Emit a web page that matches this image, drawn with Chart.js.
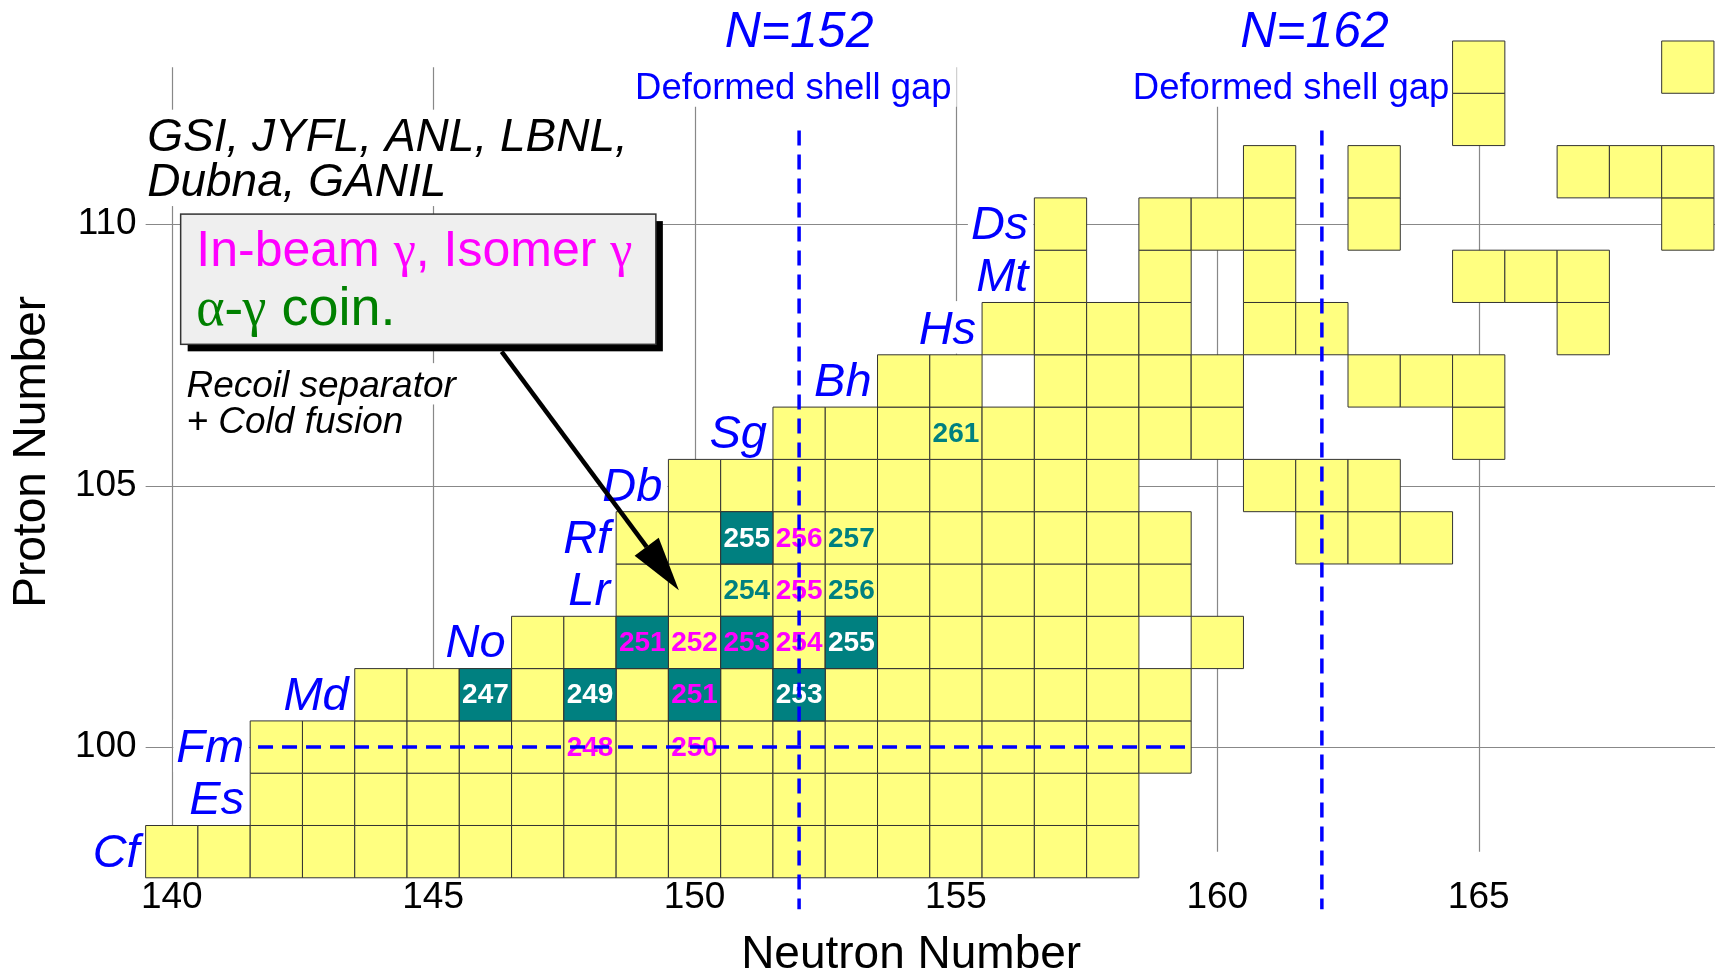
<!DOCTYPE html>
<html>
<head>
<meta charset="utf-8">
<title>Spectroscopy of the heaviest nuclei</title>
<script src="https://cdn.jsdelivr.net/npm/chart.js@4.4.1/dist/chart.umd.min.js"></script>
<style>
  html, body { margin: 0; padding: 0; background: #ffffff; }
  #wrap { width: 1715px; height: 976px; }
</style>
</head>
<body>
<div id="wrap"><canvas id="chart" width="1715" height="976"></canvas></div>
<script>
// axis ticks
const neutronTicks = [140, 145, 150, 155, 160, 165];
const protonTicks = [100, 105, 110];

// known nuclides, one row of neutron numbers per proton number
const protonNumbers = [98, 99, 100, 101, 102, 103, 104, 105, 106, 107, 108, 109, 110, 111, 112, 113];
const knownNeutrons = [
  [140, 141, 142, 143, 144, 145, 146, 147, 148, 149, 150, 151, 152, 153, 154, 155, 156, 157, 158],
  [142, 143, 144, 145, 146, 147, 148, 149, 150, 151, 152, 153, 154, 155, 156, 157, 158],
  [142, 143, 144, 145, 146, 147, 148, 149, 150, 151, 152, 153, 154, 155, 156, 157, 158, 159],
  [144, 145, 146, 147, 148, 149, 150, 151, 152, 153, 154, 155, 156, 157, 158, 159],
  [147, 148, 149, 150, 151, 152, 153, 154, 155, 156, 157, 158, 160],
  [149, 150, 151, 152, 153, 154, 155, 156, 157, 158, 159],
  [149, 150, 151, 152, 153, 154, 155, 156, 157, 158, 159, 162, 163, 164],
  [150, 151, 152, 153, 154, 155, 156, 157, 158, 161, 162, 163],
  [152, 153, 154, 155, 156, 157, 158, 159, 160, 165],
  [154, 155, 157, 158, 159, 160, 163, 164, 165],
  [156, 157, 158, 159, 161, 162, 167],
  [157, 159, 161, 165, 166, 167],
  [157, 159, 160, 161, 163, 169],
  [161, 163, 167, 168, 169],
  [165],
  [165, 169]
];

// element symbols written left of each row
const elementZ = [98, 99, 100, 101, 102, 103, 104, 105, 106, 107, 108, 109, 110];
const elementSymbols = ['Cf', 'Es', 'Fm', 'Md', 'No', 'Lr', 'Rf', 'Db', 'Sg', 'Bh', 'Hs', 'Mt', 'Ds'];

// cells shaded dark
const tealZ = [101, 101, 101, 101, 102, 102, 102, 104];
const tealN = [146, 148, 150, 152, 149, 151, 153, 151];

// mass numbers written in the cells, 'ib' = in-beam / isomer gamma, 'ag' = alpha-gamma coin.
const massZ = [100, 100, 101, 101, 101, 101, 102, 102, 102, 102, 102, 103, 103, 103, 104, 104, 104, 106];
const massN = [148, 150, 146, 148, 150, 152, 149, 150, 151, 152, 153, 151, 152, 153, 151, 152, 153, 155];
const massNumbers = ['248', '250', '247', '249', '251', '253', '251', '252', '253', '254', '255', '254', '255', '256', '255', '256', '257', '261'];
const massMethod = ['ib', 'ib', 'ag', 'ag', 'ib', 'ag', 'ib', 'ib', 'ib', 'ib', 'ag', 'ag', 'ib', 'ag', 'ag', 'ib', 'ag', 'ag'];

// deformed shell gaps (dashed lines)
const shellGapN = [152, 162];
const shellGapZ = [100];

const FONT = '"Liberation Sans", Arial, Helvetica, sans-serif';
const SERIF = '"Liberation Serif", "Times New Roman", serif';
const BLUE = '#0000ff', MAGENTA = '#ff00ff', TEAL = '#008080', GREEN = '#008000';

const cells = [];
protonNumbers.forEach((z, i) => knownNeutrons[i].forEach(n => cells.push({ x: n, y: z })));
const tealCells = tealZ.map((z, i) => ({ x: tealN[i], y: z }));

function cellRadius(chart) {
  const s = chart.scales.x;
  if (!s) return 0;
  return Math.abs(s.getPixelForValue(1) - s.getPixelForValue(0)) / Math.SQRT2;
}

function px(chart, n) { return chart.scales.x.getPixelForValue(n); }
function py(chart, z) { return chart.scales.y.getPixelForValue(z); }

function runsWidth(ctx, runs) {
  let w = 0;
  runs.forEach(r => { ctx.font = r.font; w += ctx.measureText(r.t).width; });
  return w;
}

function drawRuns(ctx, runs, x, y) {
  ctx.textAlign = 'left';
  ctx.textBaseline = 'alphabetic';
  runs.forEach(r => {
    ctx.font = r.font;
    ctx.fillStyle = r.color;
    ctx.fillText(r.t, x, y);
    x += ctx.measureText(r.t).width;
  });
}

// free text on the chart, positions in (N, Z) units
function textItems(chart) {
  const items = [];
  elementSymbols.forEach((sym, i) => {
    const row = knownNeutrons[protonNumbers.indexOf(elementZ[i])];
    items.push({
      runs: [{ t: sym, font: 'italic 47px ' + FONT, color: BLUE }], size: 47, align: 'right',
      x: px(chart, Math.min(...row) - 0.5) - 6, y: py(chart, elementZ[i]) + 15, bg: true
    });
  });
  const titleN = [152, 161.86], noteN = [151.89, 161.41];
  shellGapN.forEach((n, i) => {
    items.push({ runs: [{ t: 'N=' + n, font: 'italic 50px ' + FONT, color: BLUE }], size: 50, align: 'center',
      x: px(chart, titleN[i]), y: py(chart, 113.39), bg: false });
    items.push({ runs: [{ t: 'Deformed shell gap', font: '36.5px ' + FONT, color: BLUE }], size: 36.5, align: 'center',
      x: px(chart, noteN[i]), y: py(chart, 112.39), bg: true });
  });
  items.push({ runs: [{ t: 'GSI, JYFL, ANL, LBNL,', font: 'italic 46px ' + FONT, color: '#000' }], size: 46, align: 'left',
    x: px(chart, 139.53), y: py(chart, 111.39), bg: true });
  items.push({ runs: [{ t: 'Dubna, GANIL', font: 'italic 46px ' + FONT, color: '#000' }], size: 46, align: 'left',
    x: px(chart, 139.53), y: py(chart, 110.53), bg: true });
  items.push({ runs: [{ t: 'Recoil separator', font: 'italic 37px ' + FONT, color: '#000' }], size: 37, align: 'left',
    x: px(chart, 140.28), y: py(chart, 106.70), bg: true });
  items.push({ runs: [{ t: '+ Cold fusion', font: 'italic 37px ' + FONT, color: '#000' }], size: 37, align: 'left',
    x: px(chart, 140.28), y: py(chart, 106.0), bg: true });
  return items;
}

function itemLeft(ctx, it) {
  const w = runsWidth(ctx, it.runs);
  if (it.align === 'right') return it.x - w;
  if (it.align === 'center') return it.x - w / 2;
  return it.x;
}

const chartDecor = {
  id: 'chartDecor',
  beforeDatasetsDraw(chart) {
    const { ctx, chartArea } = chart;
    ctx.save();
    // grid lines
    ctx.strokeStyle = '#888888';
    ctx.lineWidth = 1.2;
    neutronTicks.forEach(n => {
      const x = Math.round(px(chart, n)) + 0.5;
      ctx.beginPath();
      ctx.moveTo(x, py(chart, 113));
      ctx.lineTo(x, py(chart, 98));
      ctx.stroke();
    });
    protonTicks.forEach(z => {
      const y = Math.round(py(chart, z)) + 0.5;
      ctx.beginPath();
      ctx.moveTo(chartArea.left, y);
      ctx.lineTo(chartArea.right, y);
      ctx.stroke();
    });
    // white boxes behind the text
    ctx.fillStyle = '#ffffff';
    textItems(chart).forEach(it => {
      if (!it.bg) return;
      const w = runsWidth(ctx, it.runs);
      const left = itemLeft(ctx, it);
      ctx.fillRect(left - 3, it.y - 0.905 * it.size, w + 8, 1.117 * it.size);
    });
    ctx.restore();
  },
  afterDatasetsDraw(chart) {
    const { ctx } = chart;
    ctx.save();

    // mass numbers
    ctx.textAlign = 'center';
    ctx.textBaseline = 'middle';
    ctx.font = 'bold 28px ' + FONT;
    massNumbers.forEach((a, i) => {
      const dark = tealZ.some((z, k) => z === massZ[i] && tealN[k] === massN[i]);
      ctx.fillStyle = massMethod[i] === 'ib' ? MAGENTA : (dark ? '#ffffff' : TEAL);
      ctx.fillText(a, px(chart, massN[i]), py(chart, massZ[i]) + 1);
    });

    // shell gap lines
    ctx.strokeStyle = BLUE;
    ctx.lineWidth = 3.5;
    ctx.setLineDash([15, 9]);
    shellGapN.forEach(n => {
      ctx.beginPath();
      ctx.moveTo(px(chart, n), py(chart, 111.79));
      ctx.lineTo(px(chart, n), py(chart, 96.9));
      ctx.stroke();
    });
    shellGapZ.forEach(z => {
      ctx.beginPath();
      ctx.moveTo(px(chart, 141.65), py(chart, z));
      ctx.lineTo(px(chart, 159.5), py(chart, z));
      ctx.stroke();
    });
    ctx.setLineDash([]);

    // text
    textItems(chart).forEach(it => drawRuns(ctx, it.runs, itemLeft(ctx, it), it.y));

    // legend box with shadow
    const bx0 = px(chart, 140.17), by0 = py(chart, 110.19);
    const bx1 = px(chart, 149.26), by1 = py(chart, 107.70);
    ctx.fillStyle = '#000000';
    ctx.fillRect(bx0 + 7, by0 + 7, bx1 - bx0, by1 - by0);
    ctx.fillStyle = '#efefef';
    ctx.fillRect(bx0, by0, bx1 - bx0, by1 - by0);
    ctx.strokeStyle = '#333333';
    ctx.lineWidth = 1.5;
    ctx.strokeRect(bx0, by0, bx1 - bx0, by1 - by0);
    const tx = px(chart, 140.47);
    drawRuns(ctx, [
      { t: 'In-beam ', font: '50px ' + FONT, color: MAGENTA },
      { t: '\u03b3', font: '50px ' + SERIF, color: MAGENTA },
      { t: ', Isomer ', font: '50px ' + FONT, color: MAGENTA },
      { t: '\u03b3', font: '50px ' + SERIF, color: MAGENTA }
    ], tx, py(chart, 109.19));
    drawRuns(ctx, [
      { t: '\u03b1-\u03b3', font: '54px ' + SERIF, color: GREEN },
      { t: ' coin.', font: '54px ' + FONT, color: GREEN }
    ], tx, py(chart, 108.07));

    // arrow from the box to the cold fusion region
    const ax0 = px(chart, 146.31), ay0 = py(chart, 107.56);
    const ax1 = px(chart, 149.70), ay1 = py(chart, 103.0);
    const ang = Math.atan2(ay1 - ay0, ax1 - ax0);
    const headLen = 54, headHalf = 15;
    const hx = ax1 - headLen * Math.cos(ang), hy = ay1 - headLen * Math.sin(ang);
    ctx.strokeStyle = '#000000';
    ctx.lineWidth = 4.5;
    ctx.beginPath();
    ctx.moveTo(ax0, ay0);
    ctx.lineTo(hx, hy);
    ctx.stroke();
    ctx.fillStyle = '#000000';
    ctx.beginPath();
    ctx.moveTo(ax1, ay1);
    ctx.lineTo(hx + headHalf * Math.sin(ang), hy - headHalf * Math.cos(ang));
    ctx.lineTo(hx - headHalf * Math.sin(ang), hy + headHalf * Math.cos(ang));
    ctx.closePath();
    ctx.fill();

    ctx.restore();
  }
};

const chart = new Chart(document.getElementById('chart'), {
  type: 'scatter',
  data: {
    datasets: [
      {
        label: 'Known nuclides',
        data: cells,
        pointStyle: 'rect',
        pointRadius: c => cellRadius(c.chart),
        pointHoverRadius: c => cellRadius(c.chart),
        pointBackgroundColor: '#ffff80',
        pointBorderColor: '#333333',
        pointBorderWidth: 1,
        clip: false,
        order: 2
      },
      {
        label: 'Decay spectroscopy',
        data: tealCells,
        pointStyle: 'rect',
        pointRadius: c => cellRadius(c.chart),
        pointHoverRadius: c => cellRadius(c.chart),
        pointBackgroundColor: TEAL,
        pointBorderColor: '#333333',
        pointBorderWidth: 1,
        clip: false,
        order: 1
      }
    ]
  },
  options: {
    responsive: false,
    devicePixelRatio: 1,
    animation: false,
    events: [],
    layout: { autoPadding: false, padding: { left: 0, right: 0, top: 0, bottom: 0 } },
    plugins: { legend: { display: false }, tooltip: { enabled: false } },
    scales: {
      x: {
        type: 'linear',
        position: 'bottom',
        min: 139.5,
        max: 169.52,
        afterBuildTicks: s => { s.ticks = neutronTicks.map(v => ({ value: v })); },
        grid: { display: false, drawTicks: false },
        border: { display: false },
        ticks: { padding: 0, color: '#000', maxRotation: 0, autoSkip: false,
          font: { family: FONT, size: 37, lineHeight: 1.1 } },
        title: { display: true, text: 'Neutron Number   ', color: '#000',
          font: { family: FONT, size: 46, lineHeight: 0.9 }, padding: { top: 16.1, bottom: 0 } }
      },
      y: {
        type: 'linear',
        position: 'left',
        min: 97.5,
        max: 114.28,
        afterBuildTicks: s => { s.ticks = protonTicks.map(v => ({ value: v })); },
        grid: { display: false, drawTicks: true, tickLength: 9 },
        border: { display: false },
        ticks: { padding: 0, color: '#000', autoSkip: false,
          font: { family: FONT, size: 37, lineHeight: 0.01 } },
        title: { display: true, text: 'Proton Number  ', color: '#000',
          font: { family: FONT, size: 46, lineHeight: 1 }, padding: { top: 9, bottom: 19.9 } }
      }
    }
  },
  plugins: [chartDecor]
});
</script>
</body>
</html>
